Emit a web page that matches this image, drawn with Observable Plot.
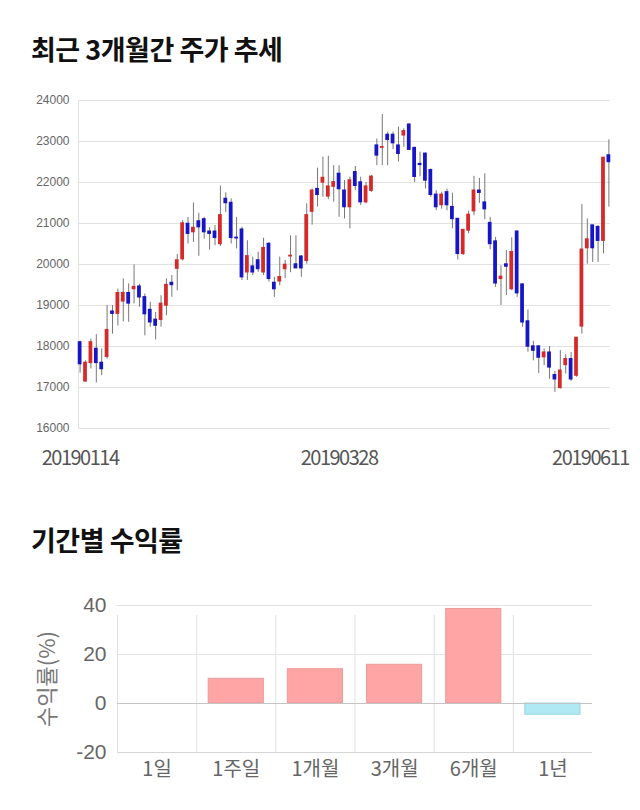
<!DOCTYPE html>
<html><head><meta charset="utf-8">
<script src="https://cdn.jsdelivr.net/npm/d3@7"></script>
<script src="https://cdn.jsdelivr.net/npm/@observablehq/plot@0.6"></script>
<style>
html,body{margin:0;padding:0;background:#fff}
body{width:640px;height:810px;position:relative;overflow:hidden;font-family:"Noto Sans CJK KR","Noto Sans",sans-serif}
.t{position:absolute;left:31px;margin:0;font-weight:bold;font-size:27px;line-height:1;color:#111;letter-spacing:-0.5px}
#t1{top:35px}
#t2{top:526px}
#c1{position:absolute;left:0;top:80px}
#c2{position:absolute;left:0;top:590px}
#c1 g[aria-label="x-axis tick label"] text{letter-spacing:-1.5px}
</style>
</head><body>
<h1 class="t" id="t1">최근 3개월간 주가 추세</h1>
<div id="c1"></div>
<h1 class="t" id="t2">기간별 수익률</h1>
<div id="c2"></div>
<script>
// ---- Candlestick data (daily OHLC) ----
const dateLabels = ["20190114", "20190328", "20190611"];
const dateTickIdx = [0, 48, 98];
const openP  = [18100,17150,17600,17940,17600,17750,18850,18800,19100,19300,19400,19460,19200,18890,18650,18650,19000,19550,19900,20130,
                20990,20790,21050,21100,20800,20800,20500,21600,21500,20650,20850,19810,19950,20100,19810,20500,19550,19590,19890,20200,
                20000,20190,20090,21290,21840,22000,21660,21900,22210,21800,21400,22250,22000,21520,21800,22900,22850,23160,23160,22900,
                23150,23410,22840,22450,22700,22300,21700,21450,21760,21400,21110,20260,20830,21300,21800,21510,21010,20560,19650,20000,
                19400,20800,19510,18610,18000,18000,17740,17850,17300,16990,17550,17690,17290,18490,20400,20950,20910,20580,22660];
const highP  = [18130,17650,18180,18290,17940,19000,19000,19400,19650,19530,19990,19520,19280,19080,18830,19240,19650,19730,20240,21070,
                21150,21500,21250,21150,20900,20950,21910,21750,21600,21150,20910,20580,20180,20300,20640,20540,19690,20180,20100,20700,
                20700,20220,21480,21840,22350,22620,22640,22410,22410,22050,22130,22390,22130,22000,22170,23060,23660,23230,23230,23350,
                23310,23430,22860,22740,22720,22330,21800,21760,21840,21740,21120,20840,21300,22150,22100,22210,21150,20660,19970,20340,
                20650,20820,19530,18890,18130,18010,17940,18000,17390,17900,17800,17850,18210,21460,21110,20960,20950,22600,23040];
const lowP   = [17350,17130,17450,17110,17290,17690,18300,18500,18600,18590,19040,18960,18260,18470,18160,18470,18750,19200,19360,20090,
                20500,20540,20200,20620,20350,20460,20440,21270,20500,20380,19610,19610,19730,19810,19730,19570,19200,19480,19650,19800,
                19900,19690,20010,20960,21400,21640,21580,21520,21150,21110,20870,21800,21440,21480,21760,22410,22410,22410,22800,22500,
                22860,22780,22000,22140,21840,21640,21310,21350,21310,20870,20110,20220,20750,21190,21490,21090,20360,19440,19000,19240,
                19360,19200,18470,17860,17650,17340,17530,17200,16880,16960,17330,17150,17250,18300,20010,20050,20050,20260,21400];
const closeP = [17570,17600,18100,17600,17450,18400,18800,19300,19300,19050,19450,19200,18790,18590,18510,19040,19500,19500,20100,21000,
                20750,20890,20910,20790,20750,20650,21200,21500,20650,20640,19690,20200,19810,19890,20400,19650,19400,19690,19990,20210,
                19910,19910,21200,21800,21700,22110,21900,22005,21840,21400,22050,21920,21520,21900,22140,22660,22860,23040,22960,22700,
                23250,22800,22140,22430,22050,21700,21400,21700,21450,21110,20260,20840,21210,21800,21750,21350,20500,19540,19700,19950,
                20300,19300,18590,18000,17900,17730,17850,17490,17200,17410,17690,17200,18210,20360,20610,20400,20580,22600,22500];
const priceTicks = [16000,17000,18000,19000,20000,21000,22000,23000,24000];

// ---- Period returns ----
const periods = ["1일","1주일","1개월","3개월","6개월","1년"];
const returnsPct = [0, 10.1, 14.0, 15.8, 38.6, -4.6];
const returnTicks = [-20, 0, 20, 40];
const returnLabel = "수익률(%)";

const UP = "#d42a2a", DOWN = "#1616c6";
const candles = openP.map((o, i) => ({i, o, h: highP[i], l: lowP[i], c: closeP[i]}));
const XMIN = -0.3, XMAX = 98.3;

const chart1 = Plot.plot({
  width: 640, height: 400,
  marginLeft: 78, marginRight: 30, marginTop: 20, marginBottom: 52,
  x: {domain: [XMIN, XMAX], axis: null},
  y: {domain: [16000, 24000], axis: null},
  style: {background: "transparent", fontFamily: "'Liberation Sans', Arial, sans-serif", overflow: "visible"},
  marks: [
    Plot.gridY(priceTicks, {stroke: "#e2e2e2", strokeOpacity: 1}),
    Plot.ruleX([XMIN], {stroke: "#e2e2e2"}),
    Plot.axisY(priceTicks, {tickSize: 0, tickPadding: 9, fontSize: 12, fill: "#666", label: null, tickFormat: d => String(d)}),
    Plot.ruleX(candles, {x: "i", y1: "l", y2: "h", stroke: "#777", strokeWidth: 1}),
    Plot.rect(candles, {
      x1: d => d.i - 0.35, x2: d => d.i + 0.35,
      y1: d => Math.min(d.o, d.c), y2: d => Math.max(d.o, d.c),
      fill: d => d.c >= d.o ? UP : DOWN,
      insetTop: -0.7, insetBottom: -0.7
    }),
    Plot.axisX(dateTickIdx.slice(0, 2), {tickSize: 0, tickPadding: 22, fontSize: 20, fill: "#555", label: null,
      fontFamily: "'Noto Sans CJK KR', 'Noto Sans', sans-serif",
      tickFormat: d => dateLabels[dateTickIdx.indexOf(d)]}),
    Plot.axisX(dateTickIdx.slice(2), {tickSize: 0, tickPadding: 22, fontSize: 20, fill: "#555", label: null,
      fontFamily: "'Noto Sans CJK KR', 'Noto Sans', sans-serif", textAnchor: "end", dx: 20,
      tickFormat: d => dateLabels[dateTickIdx.indexOf(d)]})
  ]
});
document.getElementById("c1").appendChild(chart1);

const bars = periods.map((p, i) => ({i, p, v: returnsPct[i]}));
const chart2 = Plot.plot({
  width: 640, height: 200,
  marginLeft: 117, marginRight: 48, marginTop: 15, marginBottom: 38,
  x: {domain: [0, periods.length], axis: null},
  y: {domain: [-20, 40], axis: null},
  style: {background: "transparent", fontFamily: "'Noto Sans CJK KR', 'Noto Sans', sans-serif", overflow: "visible"},
  marks: [
    Plot.gridY([20, 40], {stroke: "#e2e2e2", strokeOpacity: 1}),
    Plot.ruleX(d3.range(periods.length), {y1: -20, y2: 40, stroke: "#e2e2e2", insetBottom: -10}),
    Plot.rect(bars.filter(d => d.v !== 0), {
      x1: "i", x2: d => d.i + 1, y1: 0, y2: "v", insetLeft: 12, insetRight: 12,
      fill: d => d.v >= 0 ? "#ffa5a5" : "#b0e9f3",
      stroke: d => d.v >= 0 ? "#eb9b9b" : "#95d7e3", strokeWidth: 1
    }),
    Plot.ruleY([-20], {stroke: "#d6d6d6"}),
    Plot.ruleY([0], {stroke: "#c4c4c4"}),
    Plot.axisY(returnTicks, {tickSize: 0, tickPadding: 11, fontSize: 21, fill: "#666", label: null,
      fontFamily: "'Liberation Sans', Arial, sans-serif", tickFormat: d => String(d)}),
    Plot.text([returnLabel], {frameAnchor: "left", rotate: -90, dx: -70, textAnchor: "middle", lineAnchor: "middle",
      fontSize: 22, fill: "#777", text: d => d}),
    Plot.axisX(bars.map(d => d.i + 0.5), {tickSize: 0, tickPadding: 9, fontSize: 20, fill: "#666",
      tickFormat: d => periods[Math.floor(d)], label: null})
  ]
});
document.getElementById("c2").appendChild(chart2);
</script>
</body></html>
